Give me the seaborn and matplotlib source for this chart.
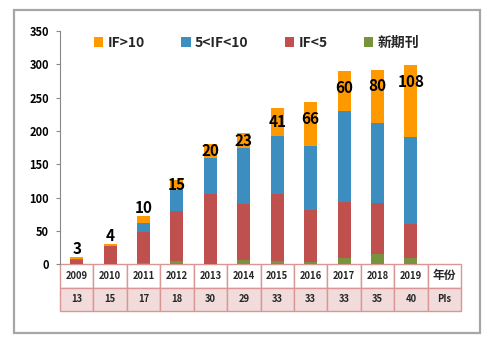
import numpy as np
import pandas as pd
import matplotlib
matplotlib.use('Agg')
import matplotlib.pyplot as plt
import seaborn as sns
from matplotlib.patches import Rectangle, Patch

# ---- data ----
years = ['2009', '2010', '2011', '2012', '2013', '2014', '2015', '2016', '2017', '2018', '2019']
pis = [13, 15, 17, 18, 30, 29, 33, 33, 33, 35, 40]
new_journal = [0, 0, 2, 5, 0, 6, 5, 4, 9, 16, 10]
if_lt5 = [6, 27, 47, 75, 106, 85, 101, 78, 85, 76, 50]
if_5_10 = [2, 0, 13, 31, 54, 83, 87, 95, 136, 120, 131]
if_gt10 = [3, 4, 10, 15, 20, 23, 41, 66, 60, 80, 108]
series_names = ['IF>10', '5<IF<10', 'IF<5', '新期刊']
row_header = ['年份', 'PIs']

colors = {'IF>10': '#FF9900', '5<IF<10': '#3C8DC0', 'IF<5': '#C0504D', '新期刊': '#77933C'}

sns.set_theme(style='white')
plt.rcParams['font.family'] = ['Noto Sans CJK SC', 'DejaVu Sans']
plt.rcParams['font.weight'] = 'bold'

W, H = 499, 343
fig = plt.figure(figsize=(W / 100, H / 100), dpi=100)
ax_left, ax_right, ax_bottom, ax_top = 60, 461, 264.3, 31
ax = fig.add_axes([ax_left / W, 1 - ax_bottom / H, (ax_right - ax_left) / W, (ax_bottom - ax_top) / H])

g = np.array(new_journal)
c1 = g
c2 = c1 + np.array(if_lt5)
c3 = c2 + np.array(if_5_10)
c4 = c3 + np.array(if_gt10)

df = pd.DataFrame({'year': years, 'c1': c1, 'c2': c2, 'c3': c3, 'c4': c4})
for col, name in [('c4', 'IF>10'), ('c3', '5<IF<10'), ('c2', 'IF<5'), ('c1', '新期刊')]:
    sns.barplot(data=df, x='year', y=col, color=colors[name], saturation=1,
                width=0.39, linewidth=0, ax=ax)

ax.set_xlim(-0.5, len(years) + 0.5)
ax.set_ylim(0, 350)
ax.set_yticks(np.arange(0, 351, 50))
ax.set_xlabel('')
ax.set_ylabel('')
ax.tick_params(axis='x', bottom=False, labelbottom=False)
ax.tick_params(axis='y', left=True, length=3, width=0.8, color='#888888',
               labelsize=8, pad=5, labelcolor='black')
for lab in ax.get_yticklabels():
    lab.set_fontweight('bold')
for s in ['top', 'right', 'bottom']:
    ax.spines[s].set_visible(False)
ax.spines['left'].set_color('#888888')
ax.spines['left'].set_linewidth(0.8)

# bar labels (IF>10 counts)
for i, o in enumerate(if_gt10):
    top = c4[i]
    if o < 12:
        ax.text(i, top, str(o), ha='center', va='bottom', fontsize=11, fontweight='bold', color='black')
    else:
        ax.text(i, top - min(o / 2, 25), str(o), ha='center', va='center', fontsize=11,
                fontweight='bold', color='black')

# legend
handles = [Patch(facecolor=colors[n], edgecolor='none') for n in series_names]
ax.legend(handles, series_names, loc='center', bbox_to_anchor=(0.49, 0.948), ncol=4,
          frameon=False, handlelength=0.7, handleheight=0.7, handletextpad=0.3,
          columnspacing=2.6, prop={'weight': 'bold', 'size': 10})

# data table below
tab_h = (310.7 - 264.3) / (ax_bottom - ax_top)
cell_text = [years + [row_header[0]], [str(p) for p in pis] + [row_header[1]]]
tab = ax.table(cellText=cell_text, cellLoc='center', bbox=[0, -tab_h, 1, tab_h])
tab.auto_set_font_size(False)
for (r, c), cell in tab.get_celld().items():
    cell.set_edgecolor('#D99694')
    cell.set_linewidth(1.0)
    cell.set_facecolor('white' if r == 0 else '#F2DCDB')
    t = cell.get_text()
    t.set_fontweight('bold')
    t.set_fontsize(6.8)
    if c == len(years) and r == 0:
        t.set_fontsize(8.5)

# outer frame
fig.add_artist(Rectangle((14 / W, 1 - 333 / H), (480 - 14) / W, (333 - 10) / H,
                         transform=fig.transFigure, fill=False, edgecolor='#A6A6A6', linewidth=1.6))

fig.savefig('out.png', dpi=100)
